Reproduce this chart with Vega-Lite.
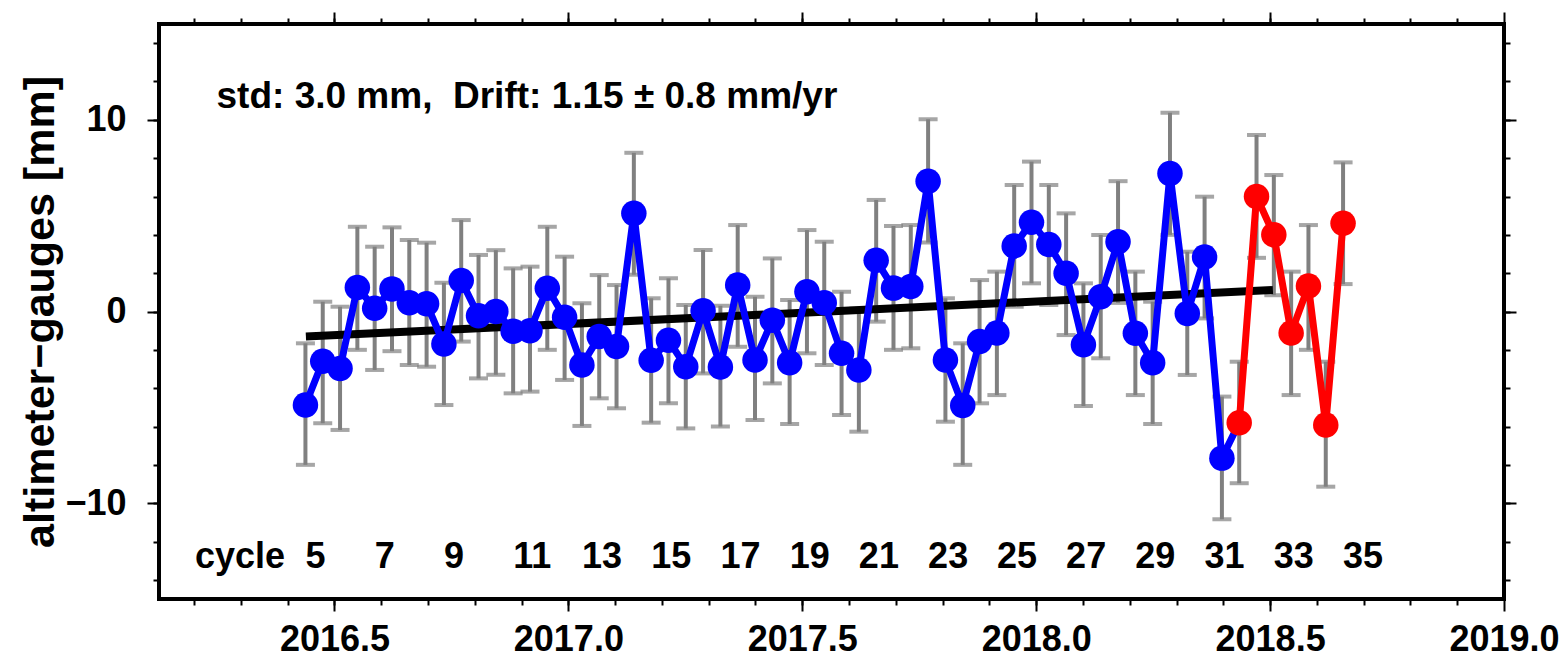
{
  "$schema": "https://vega.github.io/schema/vega-lite/v6.json",
  "width": 1345,
  "height": 575,
  "autosize": "none",
  "padding": {"left": 159, "top": 24, "right": 63, "bottom": 60},
  "background": "white",
  "config": {
    "view": {"stroke": "black", "strokeWidth": 4},
    "axis": {
      "grid": false,
      "domain": false,
      "labelFont": "Liberation Sans",
      "labelFontWeight": "bold",
      "labelFontSize": 36,
      "labelColor": "black",
      "tickColor": "black",
      "tickWidth": 2,
      "titleFont": "Liberation Sans",
      "titleFontWeight": "bold",
      "titleFontSize": 43,
      "titleColor": "black",
      "labelFlush": false,
      "labelOverlap": false
    },
    "text": {"font": "Liberation Sans", "fontWeight": "bold", "fontSize": 36, "color": "black"}
  },
  "datasets": {
    "pts": [
      {"t": 2016.438, "v": -4.88, "lo": -8.0, "hi": -1.66, "c": "blue", "join": false},
      {"t": 2016.475, "v": -2.6, "lo": -5.83, "hi": 0.51, "c": "blue", "join": false},
      {"t": 2016.512, "v": -2.97, "lo": -6.18, "hi": 0.25, "c": "blue", "join": false},
      {"t": 2016.549, "v": 1.25, "lo": -2.0, "hi": 4.42, "c": "blue", "join": false},
      {"t": 2016.586, "v": 0.17, "lo": -3.05, "hi": 3.38, "c": "blue", "join": false},
      {"t": 2016.623, "v": 1.18, "lo": -2.07, "hi": 4.39, "c": "blue", "join": false},
      {"t": 2016.660, "v": 0.46, "lo": -2.79, "hi": 3.73, "c": "blue", "join": false},
      {"t": 2016.697, "v": 0.4, "lo": -2.88, "hi": 3.59, "c": "blue", "join": false},
      {"t": 2016.734, "v": -1.7, "lo": -4.88, "hi": 1.5, "c": "blue", "join": false},
      {"t": 2016.771, "v": 1.62, "lo": -1.57, "hi": 4.77, "c": "blue", "join": false},
      {"t": 2016.808, "v": -0.22, "lo": -3.49, "hi": 2.95, "c": "blue", "join": false},
      {"t": 2016.845, "v": 0.0, "lo": -3.3, "hi": 3.2, "c": "blue", "join": false},
      {"t": 2016.882, "v": -1.03, "lo": -4.27, "hi": 2.25, "c": "blue", "join": false},
      {"t": 2016.918, "v": -1.0, "lo": -4.18, "hi": 2.34, "c": "blue", "join": false},
      {"t": 2016.955, "v": 1.21, "lo": -2.0, "hi": 4.42, "c": "blue", "join": false},
      {"t": 2016.992, "v": -0.3, "lo": -3.57, "hi": 2.86, "c": "blue", "join": false},
      {"t": 2017.029, "v": -2.79, "lo": -5.97, "hi": 0.43, "c": "blue", "join": false},
      {"t": 2017.066, "v": -1.31, "lo": -4.53, "hi": 1.9, "c": "blue", "join": false},
      {"t": 2017.103, "v": -1.83, "lo": -5.05, "hi": 1.38, "c": "blue", "join": false},
      {"t": 2017.140, "v": 5.12, "lo": 1.92, "hi": 8.28, "c": "blue", "join": false},
      {"t": 2017.177, "v": -2.54, "lo": -5.8, "hi": 0.69, "c": "blue", "join": false},
      {"t": 2017.214, "v": -1.5, "lo": -4.79, "hi": 1.73, "c": "blue", "join": false},
      {"t": 2017.251, "v": -2.88, "lo": -6.1, "hi": 0.34, "c": "blue", "join": false},
      {"t": 2017.288, "v": 0.04, "lo": -3.23, "hi": 3.21, "c": "blue", "join": false},
      {"t": 2017.325, "v": -2.89, "lo": -6.0, "hi": 0.3, "c": "blue", "join": false},
      {"t": 2017.362, "v": 1.38, "lo": -1.84, "hi": 4.51, "c": "blue", "join": false},
      {"t": 2017.399, "v": -2.53, "lo": -5.66, "hi": 0.77, "c": "blue", "join": false},
      {"t": 2017.436, "v": -0.46, "lo": -3.75, "hi": 2.77, "c": "blue", "join": false},
      {"t": 2017.473, "v": -2.67, "lo": -5.87, "hi": 0.6, "c": "blue", "join": false},
      {"t": 2017.510, "v": 1.03, "lo": -2.18, "hi": 4.25, "c": "blue", "join": false},
      {"t": 2017.547, "v": 0.46, "lo": -2.79, "hi": 3.64, "c": "blue", "join": false},
      {"t": 2017.584, "v": -2.18, "lo": -5.4, "hi": 1.03, "c": "blue", "join": false},
      {"t": 2017.621, "v": -3.05, "lo": -6.27, "hi": 0.15, "c": "blue", "join": false},
      {"t": 2017.658, "v": 2.67, "lo": -0.53, "hi": 5.82, "c": "blue", "join": false},
      {"t": 2017.695, "v": 1.22, "lo": -2.0, "hi": 4.46, "c": "blue", "join": false},
      {"t": 2017.732, "v": 1.3, "lo": -1.92, "hi": 4.51, "c": "blue", "join": false},
      {"t": 2017.769, "v": 6.8, "lo": 3.6, "hi": 10.03, "c": "blue", "join": false},
      {"t": 2017.806, "v": -2.53, "lo": -5.75, "hi": 0.69, "c": "blue", "join": false},
      {"t": 2017.843, "v": -4.9, "lo": -8.0, "hi": -1.66, "c": "blue", "join": false},
      {"t": 2017.879, "v": -1.57, "lo": -4.79, "hi": 1.64, "c": "blue", "join": false},
      {"t": 2017.916, "v": -1.12, "lo": -4.36, "hi": 2.08, "c": "blue", "join": false},
      {"t": 2017.953, "v": 3.42, "lo": 0.25, "hi": 6.6, "c": "blue", "join": false},
      {"t": 2017.990, "v": 4.66, "lo": 1.47, "hi": 7.82, "c": "blue", "join": false},
      {"t": 2018.027, "v": 3.5, "lo": 0.34, "hi": 6.6, "c": "blue", "join": false},
      {"t": 2018.064, "v": 2.0, "lo": -1.23, "hi": 5.12, "c": "blue", "join": false},
      {"t": 2018.101, "v": -1.74, "lo": -4.93, "hi": 1.47, "c": "blue", "join": false},
      {"t": 2018.138, "v": 0.77, "lo": -2.44, "hi": 3.99, "c": "blue", "join": false},
      {"t": 2018.175, "v": 3.64, "lo": 0.45, "hi": 6.8, "c": "blue", "join": false},
      {"t": 2018.212, "v": -1.14, "lo": -4.36, "hi": 2.08, "c": "blue", "join": false},
      {"t": 2018.249, "v": -2.67, "lo": -5.87, "hi": 0.51, "c": "blue", "join": false},
      {"t": 2018.286, "v": 7.2, "lo": 4.0, "hi": 10.37, "c": "blue", "join": false},
      {"t": 2018.323, "v": -0.1, "lo": -3.31, "hi": 3.12, "c": "blue", "join": false},
      {"t": 2018.360, "v": 2.84, "lo": -0.36, "hi": 5.99, "c": "blue", "join": false},
      {"t": 2018.397, "v": -7.65, "lo": -10.84, "hi": -4.44, "c": "blue", "join": false},
      {"t": 2018.434, "v": -5.8, "lo": -8.96, "hi": -2.62, "c": "red", "join": true},
      {"t": 2018.471, "v": 6.0, "lo": 2.8, "hi": 9.21, "c": "red", "join": false},
      {"t": 2018.508, "v": 4.0, "lo": 0.85, "hi": 7.12, "c": "red", "join": false},
      {"t": 2018.545, "v": -1.12, "lo": -4.36, "hi": 2.08, "c": "red", "join": false},
      {"t": 2018.582, "v": 1.33, "lo": -2.0, "hi": 4.51, "c": "red", "join": false},
      {"t": 2018.619, "v": -5.92, "lo": -9.14, "hi": -2.62, "c": "red", "join": false},
      {"t": 2018.656, "v": 4.6, "lo": 1.43, "hi": 7.78, "c": "red", "join": false}
    ],
    "trend": [
      {"t": 2016.439, "v": -1.31},
      {"t": 2018.506, "v": 1.12}
    ],
    "cycles": [
      {"t": 2016.202, "label": "cycle"},
      {"t": 2016.438, "label": "5"},
      {"t": 2016.586, "label": "7"},
      {"t": 2016.734, "label": "9"},
      {"t": 2016.882, "label": "11"},
      {"t": 2017.029, "label": "13"},
      {"t": 2017.177, "label": "15"},
      {"t": 2017.325, "label": "17"},
      {"t": 2017.473, "label": "19"},
      {"t": 2017.621, "label": "21"},
      {"t": 2017.769, "label": "23"},
      {"t": 2017.916, "label": "25"},
      {"t": 2018.064, "label": "27"},
      {"t": 2018.212, "label": "29"},
      {"t": 2018.360, "label": "31"},
      {"t": 2018.508, "label": "33"},
      {"t": 2018.656, "label": "35"}
    ]
  },
  "resolve": {"axis": {"x": "independent", "y": "independent"}},
  "layer": [
    {
      "data": {"name": "pts"},
      "mark": {"type": "rule", "color": "#808080", "strokeWidth": 4},
      "encoding": {
        "x": {"field": "t", "type": "quantitative",
              "scale": {"domain": [2016.125, 2019.0], "nice": false, "zero": false},
              "axis": {"orient": "bottom", "values": [2016.5, 2017.0, 2017.5, 2018.0, 2018.5, 2019.0], "format": ".1f", "tickSize": 12, "labelPadding": 11, "title": null}},
        "y": {"field": "lo", "type": "quantitative",
              "scale": {"domain": [-15, 15], "nice": false, "zero": false},
              "axis": {"orient": "left", "values": [-10, 0, 10], "format": "d", "tickSize": 12, "labelPadding": 21, "title": "altimeter−gauges [mm]", "titlePadding": 2}},
        "y2": {"field": "hi"}
      }
    },
    {
      "data": {"name": "pts"},
      "mark": {"type": "tick", "orient": "horizontal", "color": "#808080", "size": 19, "thickness": 4},
      "encoding": {
        "x": {"field": "t", "type": "quantitative",
              "scale": {"domain": [2016.125, 2019.0], "nice": false, "zero": false},
              "axis": {"orient": "bottom", "values": [2016.2, 2016.3, 2016.4, 2016.5, 2016.6, 2016.7, 2016.8, 2016.9, 2017.0, 2017.1, 2017.2, 2017.3, 2017.4, 2017.5, 2017.6, 2017.7, 2017.8, 2017.9, 2018.0, 2018.1, 2018.2, 2018.3, 2018.4, 2018.5, 2018.6, 2018.7, 2018.8, 2018.9], "tickSize": 6, "labels": false, "title": null}},
        "y": {"field": "hi", "type": "quantitative",
              "scale": {"domain": [-15, 15], "nice": false, "zero": false},
              "axis": {"orient": "left", "values": [-14, -12, -10, -8, -6, -4, -2, 0, 2, 4, 6, 8, 10, 12, 14], "tickSize": 6, "labels": false, "title": null}}
      }
    },
    {
      "data": {"name": "pts"},
      "mark": {"type": "tick", "orient": "horizontal", "color": "#808080", "size": 19, "thickness": 4},
      "encoding": {
        "x": {"field": "t", "type": "quantitative",
              "scale": {"domain": [2016.125, 2019.0], "nice": false, "zero": false},
              "axis": {"orient": "top", "values": [2016.5, 2017.0, 2017.5, 2018.0, 2018.5, 2019.0], "tickSize": 12, "labels": false, "title": null}},
        "y": {"field": "lo", "type": "quantitative",
              "scale": {"domain": [-15, 15], "nice": false, "zero": false},
              "axis": {"orient": "right", "values": [-10, 0, 10], "tickSize": 12, "labels": false, "title": null}}
      }
    },
    {
      "data": {"name": "trend"},
      "mark": {"type": "line", "color": "black", "strokeWidth": 8},
      "encoding": {
        "x": {"field": "t", "type": "quantitative",
              "scale": {"domain": [2016.125, 2019.0], "nice": false, "zero": false},
              "axis": {"orient": "top", "values": [2016.2, 2016.3, 2016.4, 2016.5, 2016.6, 2016.7, 2016.8, 2016.9, 2017.0, 2017.1, 2017.2, 2017.3, 2017.4, 2017.5, 2017.6, 2017.7, 2017.8, 2017.9, 2018.0, 2018.1, 2018.2, 2018.3, 2018.4, 2018.5, 2018.6, 2018.7, 2018.8, 2018.9], "tickSize": 6, "labels": false, "title": null}},
        "y": {"field": "v", "type": "quantitative",
              "scale": {"domain": [-15, 15], "nice": false, "zero": false},
              "axis": {"orient": "right", "values": [-14, -12, -10, -8, -6, -4, -2, 0, 2, 4, 6, 8, 10, 12, 14], "tickSize": 6, "labels": false, "title": null}}
      }
    },
    {
      "data": {"name": "pts"},
      "transform": [{"filter": "datum.c == 'blue' || datum.join"}],
      "mark": {"type": "line", "color": "#0000ff", "strokeWidth": 7},
      "encoding": {
        "x": {"field": "t", "type": "quantitative", "axis": null},
        "y": {"field": "v", "type": "quantitative", "axis": null}
      }
    },
    {
      "data": {"name": "pts"},
      "transform": [{"filter": "datum.c == 'red'"}],
      "mark": {"type": "line", "color": "#ff0000", "strokeWidth": 7},
      "encoding": {
        "x": {"field": "t", "type": "quantitative", "axis": null},
        "y": {"field": "v", "type": "quantitative", "axis": null}
      }
    },
    {
      "data": {"name": "pts"},
      "mark": {"type": "point", "shape": "circle", "filled": true, "opacity": 1, "size": 650, "strokeWidth": 0},
      "encoding": {
        "x": {"field": "t", "type": "quantitative", "axis": null},
        "y": {"field": "v", "type": "quantitative", "axis": null},
        "color": {"field": "c", "type": "nominal", "scale": {"domain": ["blue", "red"], "range": ["#0000ff", "#ff0000"]}, "legend": null}
      }
    },
    {
      "data": {"name": "cycles"},
      "mark": {"type": "text", "align": "left", "baseline": "alphabetic"},
      "encoding": {
        "x": {"field": "t", "type": "quantitative", "axis": null},
        "y": {"datum": -13.4, "type": "quantitative", "axis": null},
        "text": {"field": "label"}
      }
    },
    {
      "data": {"values": [{"label": "std: 3.0 mm, \u00a0Drift: 1.15 ± 0.8 mm/yr"}]},
      "mark": {"type": "text", "align": "left", "baseline": "alphabetic", "fontSize": 37},
      "encoding": {
        "x": {"datum": 2016.248, "type": "quantitative", "axis": null},
        "y": {"datum": 10.6, "type": "quantitative", "axis": null},
        "text": {"field": "label"}
      }
    }
  ]
}
